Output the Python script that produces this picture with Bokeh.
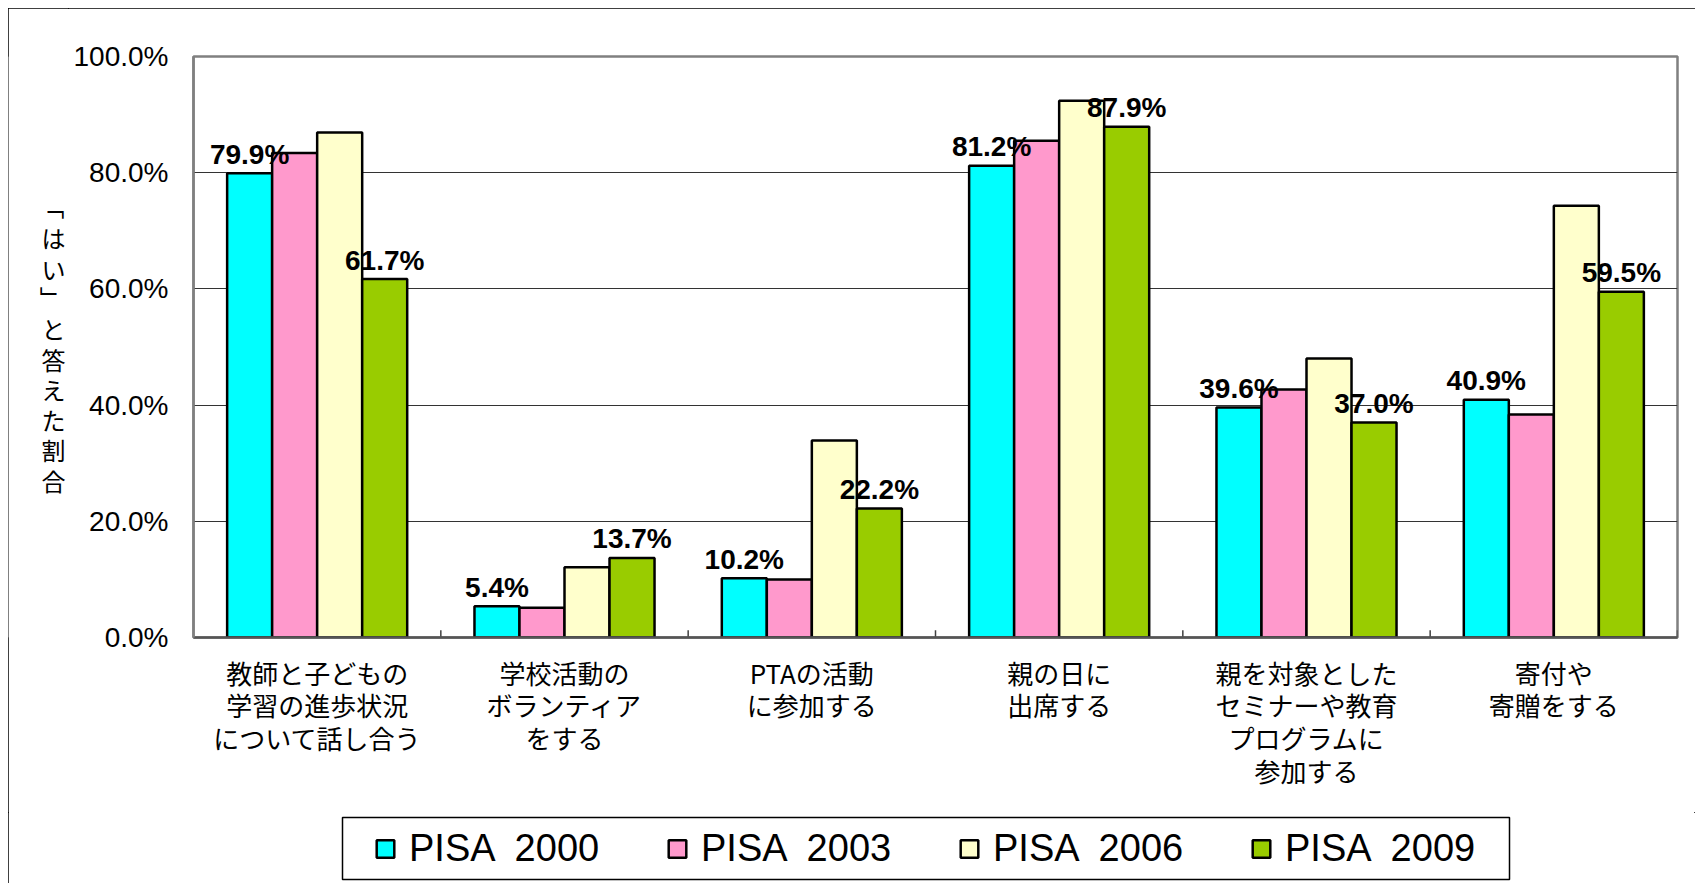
import math
from bokeh.plotting import figure
from bokeh.layouts import column, row
from bokeh.models import (FactorRange, ColumnDataSource, Legend, LegendItem,
                          FixedTicker, PrintfTickFormatter, Range1d)
from bokeh.transform import dodge
from bokeh.embed import file_html
from bokeh.resources import INLINE
from bokeh.core.properties import value

# ---------------- data ----------------
categories = [
    "教師と子どもの\n学習の進歩状況\nについて話し合う",
    "学校活動の\nボランティア\nをする",
    "PTAの活動\nに参加する",
    "親の日に\n出席する",
    "親を対象とした\nセミナーや教育\nプログラムに\n参加する",
    "寄付や\n寄贈をする",
]
series_names = ["PISA  2000", "PISA  2003", "PISA  2006", "PISA  2009"]
pisa2000 = [79.9, 5.4, 10.2, 81.2, 39.6, 40.9]
pisa2003 = [83.4, 5.1, 10.0, 85.5, 42.7, 38.4]
pisa2006 = [86.9, 12.1, 33.9, 92.4, 48.0, 74.3]
pisa2009 = [61.7, 13.7, 22.2, 87.9, 37.0, 59.5]
labelled_series = [0, 3]          # data labels shown for PISA 2000 and PISA 2009
colors = ["#00FFFF", "#FF99CC", "#FFFFCC", "#99CC00"]
y_ticks = [0, 20, 40, 60, 80, 100]
y_title = "「はい」と答えた割合"

values = [pisa2000, pisa2003, pisa2006, pisa2009]

# ---------------- layout constants ----------------
TOTAL_W, TOTAL_H = 1687, 875
TITLE_W = 60                      # strip holding the vertical y-axis title
FRAME_W, FRAME_H = 1484, 581
BORDER_L, BORDER_T, BORDER_B = 125, 48, 175
BORDER_R = TOTAL_W - TITLE_W - BORDER_L - FRAME_W
MAIN_H = BORDER_T + FRAME_H + BORDER_B
LEG_H = TOTAL_H - MAIN_H
BAR_W = 0.182
offsets = [(-1.5 + i) * BAR_W for i in range(4)]

LAT = "Liberation Sans"
JP = "Noto Sans CJK JP"

p = figure(
    x_range=FactorRange(*categories, range_padding=0),
    y_range=(0, 100),
    frame_width=FRAME_W, frame_height=FRAME_H,
    min_border_left=BORDER_L, min_border_right=BORDER_R,
    min_border_top=BORDER_T, min_border_bottom=BORDER_B,
    output_backend="svg", toolbar_location=None,
    background_fill_color="white", border_fill_color="white",
)

data = dict(cat=categories)
for i, v in enumerate(values):
    data[f"v{i}"] = v
    data[f"t{i}"] = [f"{x:.1f}%" for x in v]
src = ColumnDataSource(data)

renderers = []
for i in range(4):
    r = p.vbar(x=dodge("cat", offsets[i], range=p.x_range), top=f"v{i}", width=BAR_W,
               bottom=0, source=src, fill_color=colors[i], line_color="black",
               line_width=2.5)
    renderers.append(r)

for i in labelled_series:
    p.text(x=dodge("cat", offsets[i], range=p.x_range), y=f"v{i}", text=f"t{i}",
           source=src, text_align="center", text_baseline="alphabetic", y_offset=-19,
           text_font=value(LAT), text_font_style="bold", text_font_size="28px",
           text_color="black")

# small ticks at category boundaries (inside the frame)
bounds = list(range(1, len(categories) + 1))
p.segment(x0=bounds, x1=bounds, y0=[0] * len(bounds), y1=[1.25] * len(bounds),
          line_color="#404040", line_width=1.5)

# ---------------- axes ----------------
p.xaxis.major_label_text_font = JP
p.xaxis.major_label_text_font_size = "26px"
p.xaxis.major_label_text_color = "black"
p.xaxis.major_label_text_line_height = 0.89
p.xaxis.major_label_standoff = 16
p.xaxis.major_tick_in = 0
p.xaxis.major_tick_out = 0
p.xaxis.minor_tick_line_color = None
p.xaxis.axis_line_color = "#555555"
p.xaxis.axis_line_width = 2.5
p.xgrid.grid_line_color = None

p.yaxis.ticker = FixedTicker(ticks=y_ticks)
p.yaxis.formatter = PrintfTickFormatter(format="%.1f%%")
p.yaxis.major_label_text_font = LAT
p.yaxis.major_label_text_font_size = "28px"
p.yaxis.major_label_text_color = "black"
p.yaxis.major_label_standoff = 25
p.yaxis.major_tick_in = 0
p.yaxis.major_tick_out = 0
p.yaxis.minor_tick_line_color = None
p.yaxis.axis_line_color = "#808080"
p.yaxis.axis_line_width = 2.5
p.ygrid.grid_line_color = "#333333"
p.ygrid.grid_line_width = 1

p.outline_line_color = "#808080"
p.outline_line_width = 2.5
p.outline_line_alpha = 1

# ---------------- vertical y-axis title (upright characters, stacked) ----------------
# in a row, this strip's plot area is aligned with the chart's plot area,
# so its y range is expressed in pixels of that plot area (0 = bottom)
tf = figure(width=TITLE_W, height=MAIN_H, x_range=Range1d(0, TITLE_W),
            y_range=Range1d(0, FRAME_H), min_border=0,
            x_axis_location=None, y_axis_location=None,
            output_backend="svg", toolbar_location=None,
            background_fill_color="white", border_fill_color="white")
tf.grid.grid_line_color = None
tf.outline_line_color = None
CELL = 30.3
chars = list(y_title)
title_src = ColumnDataSource(dict(
    ch=chars,
    x=[45] * len(chars),
    y=[FRAME_H - (151 + CELL * k) for k in range(len(chars))],
    ang=[-math.pi / 2 if c in "「」" else 0.0 for c in chars],
))
tf.text(x="x", y="y", text="ch", angle="ang", source=title_src,
        text_align="center", text_baseline="middle",
        text_font=value(JP), text_font_size="24px", text_color="black")

# ---------------- legend (own strip below the chart) ----------------
LEG_LEFT, LEG_W, LEG_TOP, LEG_BOX_H = 334, 1167, 5, 62
lf = figure(width=TOTAL_W, height=LEG_H,
            x_range=FactorRange(*categories, range_padding=0), y_range=Range1d(0, 100),
            min_border_left=LEG_LEFT, min_border_right=TOTAL_W - LEG_LEFT - LEG_W,
            min_border_top=LEG_TOP, min_border_bottom=LEG_H - LEG_TOP - LEG_BOX_H,
            x_axis_location=None, y_axis_location=None,
            output_backend="svg", toolbar_location=None,
            background_fill_color="white", border_fill_color="white")
lf.grid.grid_line_color = None
lf.outline_line_color = "black"
lf.outline_line_width = 1.5

# the same series, hidden, only to provide the legend swatches
swatches = []
for i in range(4):
    swatches.append(lf.vbar(x=dodge("cat", offsets[i], range=lf.x_range), top=f"v{i}",
                            width=BAR_W, source=src, fill_color=colors[i],
                            line_color="black", line_width=2.5, visible=False))
items = [LegendItem(label=series_names[i], renderers=[swatches[i]]) for i in range(4)]
legend = Legend(items=items, orientation="horizontal", location="left",
                glyph_width=22, glyph_height=22, label_standoff=13, label_width=200,
                spacing=57, padding=0, margin=32,
                label_text_font=LAT, label_text_font_size="38px",
                label_text_color="black", border_line_color=None,
                background_fill_alpha=0, inactive_fill_alpha=0)
lf.add_layout(legend)

layout = column(row(tf, p, spacing=0), lf, spacing=0, margin=(8, 0, 0, 8))
layout.styles = {"outline": "1px solid #000000", "outline-offset": "-1px"}

open("out.html", "w").write(file_html(layout, INLINE))
